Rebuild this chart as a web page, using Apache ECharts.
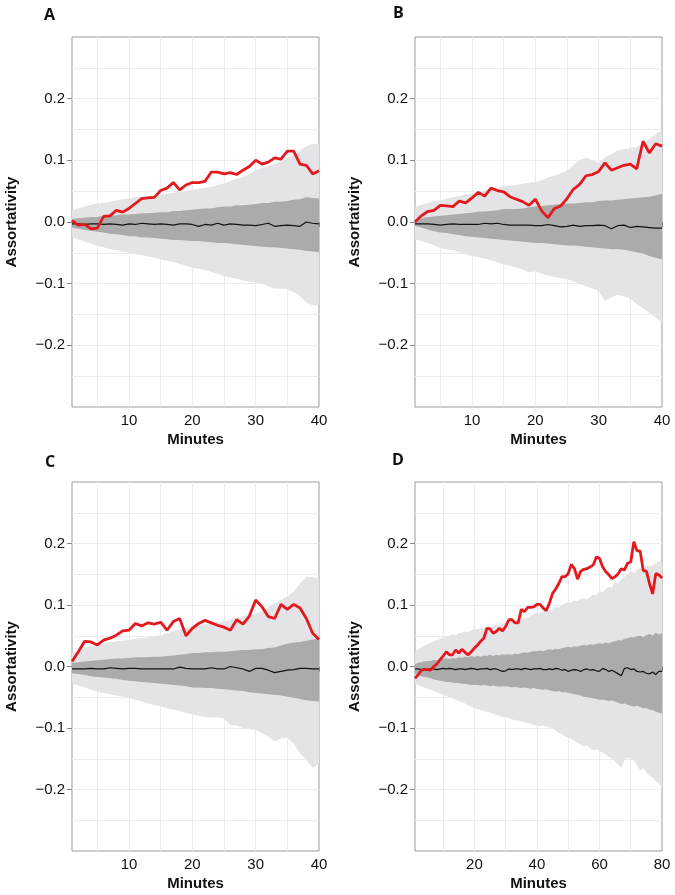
<!DOCTYPE html>
<html><head><meta charset="utf-8">
<script src="https://cdn.jsdelivr.net/npm/echarts@6/dist/echarts.min.js"></script>
<style>html,body{margin:0;padding:0;background:#fff}#c{width:675px;height:895px}</style>
</head><body><div id="c"></div>
<script>
// ---------- data ----------
const minutes40 = [1,2,3,4,5,6,7,8,9,10,11,12,13,14,15,16,17,18,19,20,21,22,23,24,25,26,27,28,29,30,31,32,33,34,35,36,37,38,39,40];
const minutes80 = [1,2,3,4,5,6,7,8,9,10,11,12,13,14,15,16,17,18,19,20,21,22,23,24,25,26,27,28,29,30,31,32,33,34,35,36,37,38,39,40,
  41,42,43,44,45,46,47,48,49,50,51,52,53,54,55,56,57,58,59,60,61,62,63,64,65,66,67,68,69,70,71,72,73,74,75,76,77,78,79,80];

const yTickValues = [-0.2,-0.1,0,0.1,0.2];
const yGridValues = [-0.25,-0.2,-0.15,-0.1,-0.05,0,0.05,0.1,0.15,0.2,0.25];
const xTicks40 = [10,20,30,40];
const xGrid40 = [5,10,15,20,25,30,35];
const xTicks80 = [20,40,60,80];
const xGrid80 = [10,20,30,40,50,60,70];

// Panel A
const redA = [0.002,-0.005,-0.004,-0.011,-0.010,0.009,0.010,0.019,0.016,0.022,0.030,0.038,0.039,0.040,0.051,0.055,0.064,0.052,0.060,0.064,
  0.064,0.066,0.081,0.081,0.078,0.080,0.077,0.084,0.090,0.100,0.094,0.097,0.104,0.102,0.115,0.115,0.094,0.092,0.078,0.083];
const medA = [-0.003,-0.003,-0.004,-0.003,-0.003,-0.004,-0.003,-0.004,-0.005,-0.003,-0.004,-0.002,-0.003,-0.004,-0.003,-0.004,-0.005,-0.003,-0.003,-0.004,
  -0.007,-0.004,-0.005,-0.002,-0.005,-0.003,-0.004,-0.005,-0.005,-0.006,-0.004,-0.002,-0.007,-0.006,-0.005,-0.006,-0.007,0.000,-0.002,-0.003];
const darkUpA = [0.005,0.006,0.007,0.008,0.008,0.010,0.010,0.011,0.012,0.012,0.013,0.014,0.014,0.015,0.016,0.016,0.018,0.018,0.019,0.020,
  0.021,0.022,0.022,0.024,0.025,0.025,0.027,0.027,0.028,0.029,0.031,0.031,0.033,0.033,0.034,0.036,0.037,0.040,0.039,0.038];
const darkLoA = [-0.009,-0.011,-0.013,-0.014,-0.016,-0.017,-0.019,-0.020,-0.021,-0.023,-0.023,-0.025,-0.025,-0.026,-0.027,-0.028,-0.029,-0.029,-0.030,-0.031,
  -0.031,-0.032,-0.033,-0.034,-0.034,-0.035,-0.036,-0.037,-0.038,-0.039,-0.040,-0.041,-0.041,-0.042,-0.043,-0.044,-0.045,-0.047,-0.048,-0.049];
const lightUpA = [0.019,0.022,0.025,0.028,0.030,0.031,0.033,0.035,0.037,0.038,0.040,0.041,0.042,0.043,0.044,0.046,0.047,0.049,0.050,0.052,
  0.054,0.055,0.057,0.060,0.063,0.066,0.070,0.073,0.078,0.084,0.087,0.091,0.095,0.098,0.104,0.109,0.116,0.123,0.127,0.126];
const lightLoA = [-0.024,-0.028,-0.032,-0.035,-0.039,-0.041,-0.044,-0.046,-0.048,-0.050,-0.052,-0.054,-0.056,-0.058,-0.061,-0.063,-0.065,-0.068,-0.071,-0.074,
  -0.076,-0.078,-0.081,-0.084,-0.088,-0.090,-0.092,-0.095,-0.097,-0.098,-0.100,-0.104,-0.108,-0.108,-0.109,-0.114,-0.120,-0.131,-0.135,-0.135];

// Panel B
const redB = [0.000,0.010,0.017,0.019,0.027,0.026,0.025,0.034,0.031,0.039,0.048,0.042,0.055,0.051,0.049,0.041,0.037,0.033,0.027,0.037,
  0.018,0.007,0.022,0.026,0.038,0.053,0.061,0.075,0.077,0.082,0.096,0.084,0.088,0.092,0.094,0.086,0.131,0.112,0.127,0.123];
const medB = [-0.003,-0.003,-0.003,-0.004,-0.005,-0.004,-0.003,-0.004,-0.004,-0.004,-0.004,-0.002,-0.003,-0.002,-0.004,-0.005,-0.005,-0.005,-0.005,-0.006,
  -0.006,-0.004,-0.006,-0.008,-0.007,-0.005,-0.007,-0.006,-0.006,-0.005,-0.006,-0.011,-0.006,-0.005,-0.009,-0.007,-0.008,-0.009,-0.010,-0.010];
const darkUpB = [0.004,0.006,0.008,0.009,0.010,0.011,0.012,0.013,0.014,0.015,0.017,0.017,0.018,0.019,0.021,0.021,0.021,0.022,0.024,0.025,
  0.026,0.027,0.028,0.029,0.030,0.030,0.031,0.032,0.032,0.034,0.035,0.035,0.036,0.037,0.038,0.039,0.040,0.041,0.043,0.046];
const darkLoB = [-0.006,-0.009,-0.012,-0.015,-0.017,-0.018,-0.020,-0.021,-0.023,-0.024,-0.025,-0.026,-0.027,-0.028,-0.029,-0.030,-0.031,-0.032,-0.033,-0.034,
  -0.034,-0.035,-0.036,-0.037,-0.038,-0.038,-0.039,-0.040,-0.041,-0.042,-0.043,-0.044,-0.044,-0.045,-0.047,-0.049,-0.051,-0.055,-0.058,-0.061];
const lightUpB = [0.024,0.028,0.031,0.034,0.035,0.038,0.040,0.042,0.044,0.046,0.049,0.051,0.053,0.055,0.058,0.059,0.060,0.062,0.064,0.065,
  0.068,0.072,0.075,0.079,0.084,0.092,0.101,0.104,0.100,0.096,0.105,0.110,0.116,0.118,0.120,0.122,0.127,0.134,0.142,0.150];
const lightLoB = [-0.028,-0.031,-0.034,-0.038,-0.042,-0.044,-0.046,-0.049,-0.052,-0.055,-0.057,-0.059,-0.062,-0.065,-0.069,-0.071,-0.074,-0.077,-0.082,-0.080,
  -0.084,-0.087,-0.089,-0.091,-0.093,-0.096,-0.100,-0.104,-0.108,-0.112,-0.128,-0.122,-0.118,-0.121,-0.125,-0.133,-0.140,-0.147,-0.155,-0.163];

// Panel C
const redC = [0.008,0.024,0.041,0.040,0.035,0.043,0.046,0.051,0.058,0.059,0.070,0.066,0.071,0.069,0.072,0.059,0.073,0.078,0.050,0.062,
  0.070,0.075,0.071,0.067,0.064,0.059,0.076,0.069,0.082,0.108,0.097,0.081,0.078,0.101,0.093,0.101,0.095,0.078,0.054,0.044];
const medC = [-0.004,-0.004,-0.004,-0.003,-0.004,-0.004,-0.002,-0.003,-0.004,-0.003,-0.003,-0.004,-0.004,-0.004,-0.004,-0.004,-0.004,-0.001,-0.003,-0.004,
  -0.004,-0.004,-0.002,-0.004,-0.004,0.000,-0.002,-0.004,-0.008,-0.003,-0.003,-0.006,-0.010,-0.008,-0.006,-0.005,-0.003,-0.003,-0.004,-0.004];
const darkUpC = [0.006,0.007,0.008,0.009,0.010,0.011,0.012,0.013,0.013,0.014,0.015,0.015,0.015,0.016,0.016,0.017,0.018,0.019,0.020,0.022,
  0.022,0.023,0.023,0.024,0.024,0.025,0.026,0.027,0.027,0.028,0.028,0.030,0.031,0.034,0.037,0.039,0.040,0.042,0.044,0.046];
const darkLoC = [-0.011,-0.012,-0.014,-0.016,-0.017,-0.018,-0.019,-0.020,-0.022,-0.023,-0.024,-0.025,-0.026,-0.027,-0.028,-0.029,-0.030,-0.031,-0.032,-0.034,
  -0.034,-0.035,-0.035,-0.036,-0.037,-0.038,-0.039,-0.040,-0.042,-0.043,-0.044,-0.045,-0.046,-0.047,-0.049,-0.051,-0.053,-0.055,-0.056,-0.057];
const lightUpC = [0.022,0.026,0.030,0.033,0.035,0.037,0.039,0.041,0.042,0.043,0.045,0.046,0.048,0.049,0.051,0.054,0.057,0.060,0.063,0.065,
  0.067,0.069,0.070,0.072,0.073,0.076,0.079,0.082,0.084,0.086,0.090,0.096,0.103,0.108,0.114,0.122,0.135,0.146,0.145,0.143];
const lightLoC = [-0.027,-0.031,-0.034,-0.038,-0.041,-0.043,-0.045,-0.047,-0.049,-0.051,-0.054,-0.057,-0.060,-0.062,-0.065,-0.068,-0.070,-0.072,-0.075,-0.078,
  -0.080,-0.082,-0.083,-0.083,-0.084,-0.095,-0.096,-0.100,-0.102,-0.103,-0.108,-0.114,-0.122,-0.117,-0.116,-0.125,-0.141,-0.152,-0.165,-0.157];

// Panel D
const redD = [-0.019,-0.014,-0.006,-0.005,-0.005,-0.006,0.000,0.004,0.011,0.017,0.024,0.019,0.019,0.027,0.022,0.028,0.023,0.019,0.024,0.030,
  0.035,0.041,0.046,0.062,0.061,0.054,0.057,0.062,0.058,0.065,0.076,0.076,0.071,0.071,0.093,0.089,0.096,0.096,0.097,0.101,
  0.101,0.095,0.091,0.103,0.119,0.126,0.135,0.146,0.146,0.151,0.166,0.159,0.142,0.155,0.158,0.159,0.162,0.165,0.178,0.176,
  0.162,0.154,0.149,0.143,0.146,0.151,0.159,0.157,0.168,0.170,0.203,0.188,0.188,0.156,0.155,0.135,0.118,0.151,0.149,0.144];
const medD = [-0.004,-0.004,-0.005,-0.004,-0.005,-0.004,-0.004,-0.005,-0.004,-0.003,-0.004,-0.003,-0.004,-0.005,-0.004,-0.004,-0.005,-0.004,-0.003,-0.004,
  -0.005,-0.004,-0.004,-0.003,-0.005,-0.004,-0.004,-0.006,-0.008,-0.007,-0.004,-0.005,-0.004,-0.004,-0.005,-0.003,-0.004,-0.005,-0.004,-0.004,
  -0.003,-0.005,-0.005,-0.004,-0.005,-0.003,-0.004,-0.006,-0.005,-0.008,-0.006,-0.005,-0.006,-0.008,-0.005,-0.004,-0.006,-0.005,-0.007,-0.008,
  -0.003,-0.005,-0.008,-0.006,-0.009,-0.012,-0.015,-0.003,-0.002,-0.005,-0.004,-0.008,-0.009,-0.008,-0.011,-0.012,-0.009,-0.013,-0.008,-0.008];
const darkUpD = [0.004,0.006,0.007,0.008,0.009,0.009,0.011,0.010,0.012,0.012,0.013,0.012,0.014,0.013,0.015,0.014,0.016,0.015,0.017,0.016,
  0.017,0.016,0.018,0.017,0.019,0.017,0.019,0.018,0.020,0.019,0.020,0.019,0.021,0.020,0.022,0.023,0.022,0.024,0.025,0.025,
  0.026,0.025,0.027,0.028,0.027,0.029,0.028,0.030,0.031,0.032,0.031,0.033,0.032,0.034,0.035,0.034,0.036,0.035,0.037,0.038,
  0.037,0.039,0.038,0.040,0.041,0.043,0.042,0.045,0.046,0.048,0.047,0.049,0.050,0.048,0.051,0.053,0.050,0.055,0.052,0.054];
const darkLoD = [-0.012,-0.014,-0.016,-0.017,-0.018,-0.019,-0.021,-0.022,-0.023,-0.024,-0.025,-0.025,-0.026,-0.027,-0.027,-0.028,-0.028,-0.029,-0.030,-0.030,
  -0.030,-0.031,-0.030,-0.031,-0.032,-0.031,-0.032,-0.033,-0.032,-0.032,-0.033,-0.034,-0.033,-0.034,-0.035,-0.034,-0.035,-0.036,-0.035,-0.036,
  -0.037,-0.038,-0.037,-0.039,-0.040,-0.041,-0.040,-0.042,-0.042,-0.043,-0.044,-0.045,-0.046,-0.047,-0.049,-0.050,-0.051,-0.052,-0.053,-0.054,
  -0.054,-0.055,-0.056,-0.055,-0.057,-0.059,-0.061,-0.060,-0.062,-0.064,-0.065,-0.064,-0.066,-0.068,-0.068,-0.070,-0.071,-0.073,-0.075,-0.076];
const lightUpD = [0.024,0.028,0.031,0.034,0.036,0.039,0.041,0.043,0.045,0.047,0.049,0.050,0.052,0.051,0.054,0.055,0.057,0.056,0.059,0.061,
  0.060,0.062,0.064,0.063,0.065,0.066,0.068,0.067,0.070,0.072,0.071,0.073,0.075,0.074,0.077,0.079,0.080,0.082,0.085,0.088,
  0.087,0.090,0.092,0.091,0.094,0.097,0.096,0.100,0.103,0.105,0.104,0.107,0.106,0.110,0.111,0.109,0.114,0.117,0.115,0.123,
  0.121,0.126,0.130,0.128,0.139,0.135,0.142,0.146,0.150,0.155,0.152,0.157,0.160,0.158,0.166,0.163,0.165,0.168,0.171,0.170];
const lightLoD = [-0.027,-0.030,-0.032,-0.034,-0.036,-0.038,-0.040,-0.042,-0.044,-0.046,-0.048,-0.050,-0.052,-0.054,-0.056,-0.058,-0.060,-0.063,-0.065,-0.068,
  -0.069,-0.071,-0.072,-0.074,-0.075,-0.077,-0.079,-0.080,-0.082,-0.083,-0.084,-0.086,-0.087,-0.088,-0.089,-0.091,-0.092,-0.093,-0.095,-0.096,
  -0.097,-0.096,-0.098,-0.099,-0.100,-0.104,-0.108,-0.110,-0.114,-0.116,-0.118,-0.121,-0.124,-0.127,-0.130,-0.128,-0.133,-0.136,-0.134,-0.138,
  -0.140,-0.143,-0.147,-0.150,-0.155,-0.160,-0.165,-0.152,-0.148,-0.150,-0.153,-0.160,-0.170,-0.165,-0.172,-0.178,-0.180,-0.186,-0.190,-0.197];

// ---------- layout / styles ----------
const panels = [
  {letter:'A', x:minutes40, xMax:40, xTicks:xTicks40, xGrid:xGrid40, red:redA, med:medA, dUp:darkUpA, dLo:darkLoA, lUp:lightUpA, lLo:lightLoA, left:72, top:37, h:370, lx:44, ly:7},
  {letter:'B', x:minutes40, xMax:40, xTicks:xTicks40, xGrid:xGrid40, red:redB, med:medB, dUp:darkUpB, dLo:darkLoB, lUp:lightUpB, lLo:lightLoB, left:415, top:37, h:370, lx:393, ly:5},
  {letter:'C', x:minutes40, xMax:40, xTicks:xTicks40, xGrid:xGrid40, red:redC, med:medC, dUp:darkUpC, dLo:darkLoC, lUp:lightUpC, lLo:lightLoC, left:72, top:482, h:369, lx:45, ly:454},
  {letter:'D', x:minutes80, xMax:80, xTicks:xTicks80, xGrid:xGrid80, red:redD, med:medD, dUp:darkUpD, dLo:darkLoD, lUp:lightUpD, lLo:lightLoD, left:415, top:482, h:369, lx:392, ly:452}
];
const W = 247;
const RED = '#E3191E', LIGHT = '#E4E4E7', DARK = '#ABABAB', FRAME = '#9C9C9C', GRIDC = '#ECEBF2';
const FONT = 'Liberation Sans, Arial, sans-serif';

function fmtY(v){
  if (Math.abs(v) < 1e-9) return '0.0';
  return (v < 0 ? '\u2212' : '') + Math.abs(v).toFixed(1);
}
function pairs(xs, ys){ return xs.map((x,i)=>[x, ys[i]]); }
function bandRows(xs, lo, up){ return xs.map((x,i)=>[x, lo[i], up[i]]); }

function bandSeries(xi, yi, xs, lo, up, color, z){
  return {
    type:'custom', xAxisIndex:xi, yAxisIndex:yi, silent:true, z:z,
    data: bandRows(xs, lo, up),
    encode:{x:0, y:[1,2]},
    renderItem: function(params, api){
      if (params.dataIndex !== 0) return null;
      const upper = xs.map((x,i)=>api.coord([x, up[i]]));
      const lower = xs.map((x,i)=>api.coord([x, lo[i]])).reverse();
      return {type:'polygon', shape:{points: upper.concat(lower)}, style:{fill:color, stroke:null}};
    }
  };
}

const option = {animation:false, title:[], grid:[], xAxis:[], yAxis:[], series:[]};
panels.forEach((p, i) => {
  option.title.push({text:p.letter, left:p.lx, top:p.ly, padding:0, textStyle:{fontFamily:'Open Sans, sans-serif', fontWeight:700, fontSize:16, color:'#111'}});
  option.grid.push({left:p.left, top:p.top, width:W, height:p.h, show:true, borderColor:FRAME, borderWidth:1, backgroundColor:'#fff'});
  option.xAxis.push({type:'value', gridIndex:i, min:1, max:p.xMax, position:'bottom',
    axisLine:{show:false}, axisLabel:{show:false}, axisTick:{show:false, customValues:p.xGrid},
    splitLine:{show:true, lineStyle:{color:GRIDC, width:1}}});
  option.xAxis.push({type:'value', gridIndex:i, min:1, max:p.xMax, position:'bottom',
    name:'Minutes', nameLocation:'middle', nameGap:25,
    nameTextStyle:{fontFamily:FONT, fontWeight:'bold', fontSize:15, color:'#111'},
    axisLine:{show:false}, splitLine:{show:false},
    axisTick:{show:true, length:5, customValues:p.xTicks, lineStyle:{color:'#888'}},
    axisLabel:{show:true, margin:6, customValues:p.xTicks, fontFamily:FONT, fontSize:15, color:'#111'}});
  option.yAxis.push({type:'value', gridIndex:i, min:-0.3, max:0.3, position:'left',
    axisLine:{show:false}, axisLabel:{show:false}, axisTick:{show:false, customValues:yGridValues},
    splitLine:{show:true, lineStyle:{color:GRIDC, width:1}}});
  option.yAxis.push({type:'value', gridIndex:i, min:-0.3, max:0.3, position:'left',
    name:'Assortativity', nameLocation:'middle', nameGap:53,
    nameTextStyle:{fontFamily:FONT, fontWeight:'bold', fontSize:15, color:'#111'},
    axisLine:{show:false}, splitLine:{show:false},
    axisTick:{show:true, length:5, customValues:yTickValues, lineStyle:{color:'#888'}},
    axisLabel:{show:true, margin:7, customValues:yTickValues, formatter:fmtY, fontFamily:FONT, fontSize:15, color:'#111'}});

  const xi = 2*i, yi = 2*i;
  option.series.push(bandSeries(xi, yi, p.x, p.lLo, p.lUp, LIGHT, 1));
  option.series.push(bandSeries(xi, yi, p.x, p.dLo, p.dUp, DARK, 2));
  option.series.push({type:'line', xAxisIndex:xi, yAxisIndex:yi, showSymbol:false, symbol:'none', silent:true,
    data:pairs(p.x, p.med), lineStyle:{color:'#111', width:1.2}, z:3});
  option.series.push({type:'line', xAxisIndex:xi, yAxisIndex:yi, showSymbol:false, symbol:'none', silent:true,
    data:pairs(p.x, p.red), lineStyle:{color:RED, width:2.8}, z:4});
});

const chart = echarts.init(document.getElementById('c'), null, {renderer:'canvas'});
chart.setOption(option);
</script>
</body></html>
